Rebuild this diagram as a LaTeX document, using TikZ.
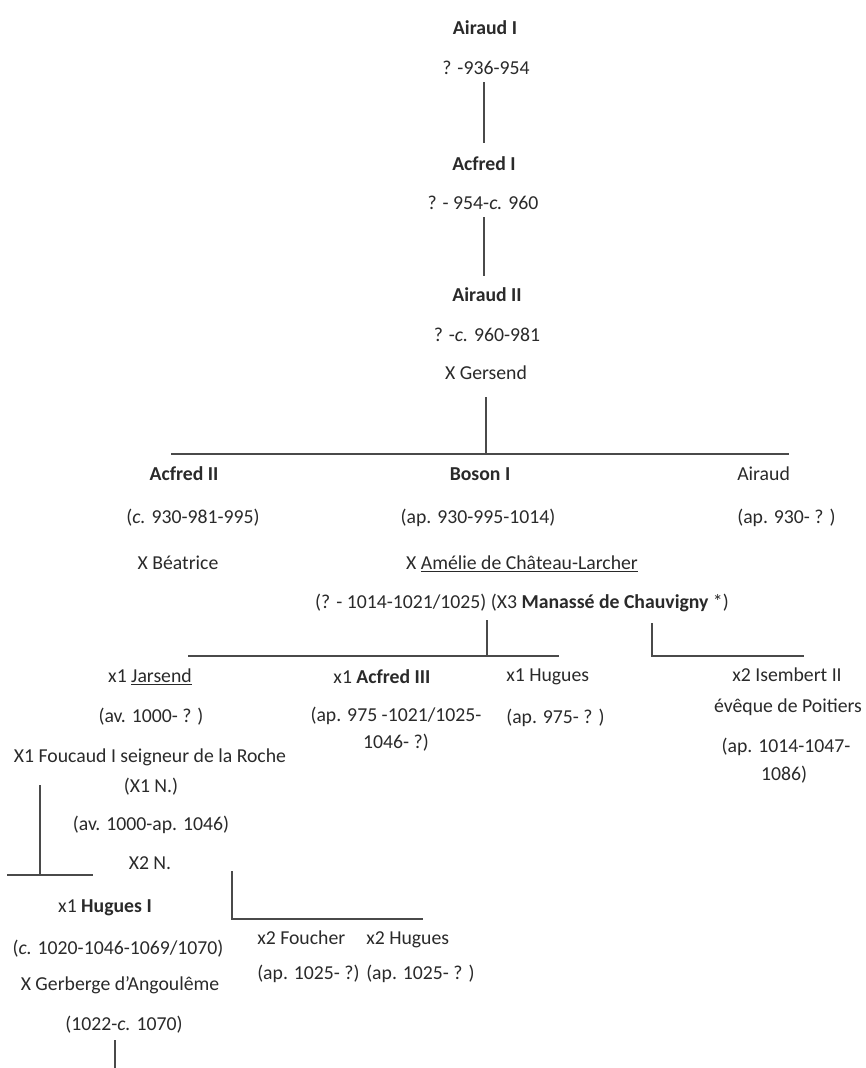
\documentclass[tikz,border=0pt]{standalone}
\usepackage{fontspec}
\setmainfont{Carlito}
\definecolor{ink}{HTML}{2A2A2A}
\definecolor{wire}{HTML}{4A4A4A}
\tikzset{
  txt/.style={inner sep=0pt, anchor=base, font=\fontsize{14.8}{17}\selectfont, text=ink},
  txtl/.style={txt, anchor=base west},
  wire/.style={draw=wire, line width=1.3pt}
}
\begin{document}
\begin{tikzpicture}[x=0.75pt,y=-0.75pt]
\useasboundingbox[fill=white] (0,0) rectangle (866,1068);
% generation 1-3
\node[txt] (n1)  at (485,34)  {\textbf{Airaud I}};
\node[txt] (n1d) at (486,74)  {? -936-954};
\node[txt] (n2)  at (484,170) {\textbf{Acfred I}};
\node[txt] (n2d) at (483,209) {? - 954-\textit{c.} 960};
\node[txt] (n3)  at (487,301) {\textbf{Airaud II}};
\node[txt] (n3d) at (487,341) {? -\textit{c.} 960-981};
\node[txt] (n3m) at (486,379) {X Gersend};
\coordinate (l1a) at (484,82);  \coordinate (l1b) at (484,143);
\coordinate (l2a) at (484,217); \coordinate (l2b) at (484,276);
\coordinate (l3a) at (486,397); \coordinate (l3b) at (486,454);
\coordinate (b1l) at (171,454); \coordinate (b1r) at (789,454);
\draw[wire] (l1a) -- (l1b);
\draw[wire] (l2a) -- (l2b);
\draw[wire] (l3a) -- (l3b);
\draw[wire] (b1l) -- (b1r);
% generation 4
\node[txt] (a2)  at (184,480) {\textbf{Acfred II}};
\node[txt] (a2d) at (193,523) {(\textit{c.} 930-981-995)};
\node[txt] (a2m) at (178,569) {X Béatrice};
\node[txt] (b1)  at (480,480) {\textbf{Boson I}};
\node[txt] (b1d) at (478,523) {(ap. 930-995-1014)};
\node[txt] (b1m) at (522,569) {X \underline{Amélie de Château-Larcher}};
\node[txt] (b1x) at (522,608) {(? - 1014-1021/1025) (X3 \textbf{Manassé de Chauvigny} *)};
\node[txtl] (ar)  at (737,480) {Airaud};
\node[txtl] (ard) at (737,523) {(ap. 930- ? )};
% bars gen 5
\coordinate (v4a) at (487,620); \coordinate (v4b) at (487,656);
\coordinate (h4l) at (188,656); \coordinate (h4r) at (559,656);
\coordinate (v5a) at (652,623); \coordinate (v5b) at (652,656);
\coordinate (h5r) at (804,656);
\draw[wire] (v4a) -- (v4b);
\draw[wire] (h4l) -- (h4r);
\draw[wire] (v5a) -- (v5b) -- (h5r);
% generation 5
\node[txt] (j)   at (150,682) {x1 \underline{Jarsend}};
\node[txt] (jd)  at (151,722) {(av. 1000- ? )};
\node[txt] (jf1) at (150,762) {X1 Foucaud I seigneur de la Roche};
\node[txt] (jf2) at (151,792) {(X1 N.)};
\node[txt] (jfd) at (151,830) {(av. 1000-ap. 1046)};
\node[txt] (jf3) at (150,869) {X2 N.};
\node[txt] (c3)  at (382,683) {x1 \textbf{Acfred III}};
\node[txt] (c3d) at (396,721) {(ap. 975 -1021/1025-};
\node[txt] (c3e) at (396,748) {1046- ?)};
\node[txtl] (h)  at (506,681) {x1 Hugues};
\node[txtl] (hd) at (506,723) {(ap. 975- ? )};
\node[txt] (i1)  at (787,681) {x2 Isembert II};
\node[txt] (i2)  at (788,712) {évêque de Poitiers};
\node[txt] (i3)  at (786,752) {(ap. 1014-1047-};
\node[txt] (i4)  at (784,780) {1086)};
% bars gen 6
\coordinate (v6a) at (40,785); \coordinate (v6b) at (40,875);
\coordinate (h6l) at (7,875);  \coordinate (h6r) at (93,875);
\coordinate (v7a) at (232,871); \coordinate (v7b) at (232,919);
\coordinate (h7r) at (423,919);
\draw[wire] (v6a) -- (v6b);
\draw[wire] (h6l) -- (h6r);
\draw[wire] (v7a) -- (v7b) -- (h7r);
% generation 6
\node[txt] (hu)  at (105,912)  {x1 \textbf{Hugues I}};
\node[txt] (hud) at (118,954)  {(\textit{c.} 1020-1046-1069/1070)};
\node[txt] (hum) at (120,990)  {X Gerberge d’Angoulême};
\node[txt] (hux) at (124,1030) {(1022-\textit{c.} 1070)};
\node[txtl] (f)  at (257,944) {x2 Foucher};
\node[txtl] (fd) at (257,979) {(ap. 1025- ?)};
\node[txtl] (g)  at (366,944) {x2 Hugues};
\node[txtl] (gd) at (366,979) {(ap. 1025- ? )};
\coordinate (v8a) at (115,1040); \coordinate (v8b) at (115,1068);
\draw[wire] (v8a) -- (v8b);
\end{tikzpicture}
\end{document}
